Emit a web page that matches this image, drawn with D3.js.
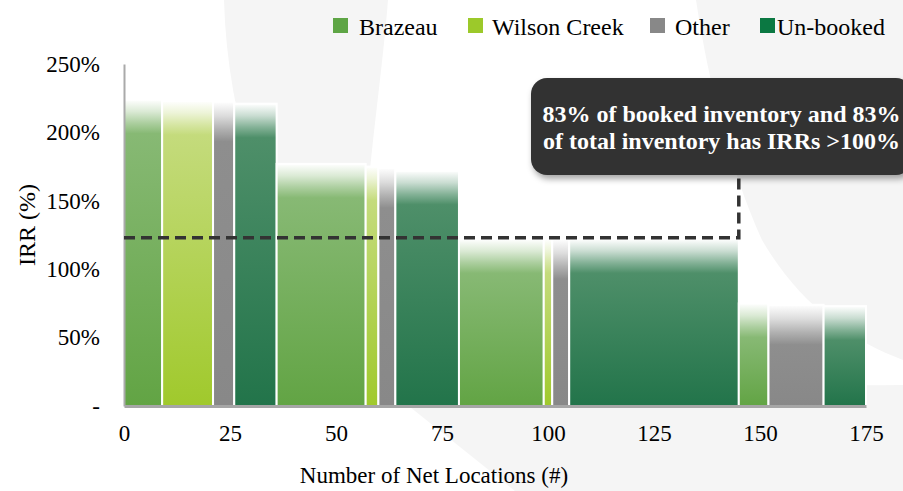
<!DOCTYPE html>
<html>
<head>
<meta charset="utf-8">
<script src="https://cdn.jsdelivr.net/npm/d3@7"></script>
<style>
  html, body { margin: 0; padding: 0; background: #ffffff; }
  svg { display: block; }
  svg text { font-family: "Liberation Serif", "Times New Roman", Times, "DejaVu Serif", serif; }
</style>
</head>
<body>
<script>
// ---- data ----
const categories = ["Brazeau", "Wilson Creek", "Other", "Un-booked"];
const barSeries = ["Brazeau", "Wilson Creek", "Other", "Un-booked",
                   "Brazeau", "Wilson Creek", "Other", "Un-booked",
                   "Brazeau", "Wilson Creek", "Other", "Un-booked",
                   "Brazeau", "Other", "Un-booked"];
const barLocations = [9, 12, 5, 10, 21, 3, 4, 15, 20, 2, 4, 40, 7, 13, 10];
const barIRR = [224, 223, 222.5, 221, 177, 175, 174, 172, 122, 122, 122, 122, 75, 74, 73];
const xTicks = [0, 25, 50, 75, 100, 125, 150, 175];
const yTicks = [0, 50, 100, 150, 200, 250];
const yTickLabels = ["-", "50%", "100%", "150%", "200%", "250%"];
const thresholdIRR = 123;
const thresholdEnd = 145;
const calloutLines = ["83% of booked inventory and 83%", "of total inventory has IRRs >100%"];
const xTitle = "Number of Net Locations (#)";
const yTitle = "IRR (%)";

// ---- style ----
const W = 903, H = 491;
const FONT = "'Liberation Serif', 'Times New Roman', Times, 'DejaVu Serif', serif";
const baseColor = {"Brazeau": "#62a444", "Wilson Creek": "#a0c92c", "Other": "#888888", "Un-booked": "#22744a"};
const topColor  = {"Brazeau": "#87b974", "Wilson Creek": "#c4db7c", "Other": "#8e8e8e", "Un-booked": "#4e8f69"};
const legendColor = {"Brazeau": "#5ea545", "Wilson Creek": "#9cc92a", "Other": "#888888", "Un-booked": "#0b7842"};

const svg = d3.select("body").append("svg").attr("width", W).attr("height", H);
const defs = svg.append("defs");

// background watermark
svg.append("rect").attr("width", W).attr("height", H).attr("fill", "#ffffff");
const bg = svg.append("g").attr("fill", "#f5f5f5");
bg.append("path").attr("d",
  "M224,0 L388,0 C380,100 362,200 368,250 C380,330 520,390 903,385 L903,491 L515,491 L410,407 C290,320 228,150 224,0 Z");
bg.append("path").attr("d", "M696,0 L903,0 L903,360 C850,340 800,305 762,240 C730,170 708,80 696,0 Z");

const x = d3.scaleLinear().domain([0, 175]).range([124, 866]);
const y = d3.scaleLinear().domain([0, 250]).range([406, 64]);

const ends = Array.from(d3.cumsum(barLocations));
const bars = barLocations.map((w, i) => ({
  series: barSeries[i], start: ends[i] - w, end: ends[i], irr: barIRR[i], i
}));

// gradients
bars.forEach(b => {
  const yTop = y(b.irr), yBot = y(0);
  const fade = b.series === "Other" ? 40 : 34;
  const g = defs.append("linearGradient")
    .attr("id", "g" + b.i).attr("gradientUnits", "userSpaceOnUse")
    .attr("x1", 0).attr("x2", 0).attr("y1", yTop).attr("y2", yBot);
  const h = yBot - yTop;
  const f = fade / h;
  const tc = topColor[b.series], bc = baseColor[b.series];
  const mix = d3.interpolateRgb("#ffffff", tc);
  g.append("stop").attr("offset", 0).attr("stop-color", "#ffffff");
  g.append("stop").attr("offset", f * 0.35).attr("stop-color", mix(0.3));
  g.append("stop").attr("offset", f * 0.7).attr("stop-color", mix(0.7));
  g.append("stop").attr("offset", f).attr("stop-color", tc);
  g.append("stop").attr("offset", 1).attr("stop-color", bc);
});

svg.append("g").selectAll("rect").data(bars).join("rect")
  .attr("x", d => x(d.start))
  .attr("y", d => y(d.irr))
  .attr("width", d => x(d.end) - x(d.start))
  .attr("height", d => y(0) - y(d.irr))
  .attr("fill", d => "url(#g" + d.i + ")")
  .attr("stroke", "#ffffff")
  .attr("stroke-width", 2);

// axes
const xAxis = svg.append("g").attr("transform", `translate(0,${y(0)})`)
  .call(d3.axisBottom(x).tickValues(xTicks).tickSize(0).tickSizeOuter(0).tickPadding(19).tickFormat(d3.format("d")));
xAxis.attr("font-family", FONT);
xAxis.select(".domain").attr("stroke", "#a6a6a6").attr("stroke-width", 3);
xAxis.selectAll("text").attr("font-size", 23).attr("fill", "#000").style("font-family", FONT);

const yAxis = svg.append("g").attr("transform", `translate(${x(0)},0)`)
  .call(d3.axisLeft(y).tickValues(yTicks).tickSize(0).tickSizeOuter(0).tickPadding(24).tickFormat((d, i) => yTickLabels[i]));
yAxis.attr("font-family", FONT);
yAxis.select(".domain").attr("stroke", "#aaaaaa").attr("stroke-width", 2);
yAxis.selectAll("text").attr("font-size", 23).attr("fill", "#000").style("font-family", FONT);

// axis titles
svg.append("text").attr("x", 434).attr("y", 483).attr("text-anchor", "middle")
  .attr("font-size", 23).attr("fill", "#000").style("font-family", FONT).text(xTitle);
svg.append("text").attr("transform", "translate(35,225) rotate(-90)").attr("text-anchor", "middle")
  .attr("font-size", 24).attr("fill", "#000").style("font-family", FONT).text(yTitle);

// callout box
const filt = defs.append("filter").attr("id", "shadow").attr("x", "-10%").attr("y", "-20%").attr("width", "130%").attr("height", "150%");
filt.append("feDropShadow").attr("dx", 2).attr("dy", 4).attr("stdDeviation", 3).attr("flood-color", "#000").attr("flood-opacity", 0.35);

const boxTop = 78, boxBottom = 175, boxLeft = 531, boxRight = 912;

// dashed threshold
svg.append("path")
  .attr("d", `M${x(0)},${y(thresholdIRR)} H${x(thresholdEnd)} V${boxBottom}`)
  .attr("fill", "none").attr("stroke", "#333333").attr("stroke-width", 3.5)
  .attr("stroke-dasharray", "11,6");

svg.append("rect").attr("x", boxLeft).attr("y", boxTop)
  .attr("width", boxRight - boxLeft).attr("height", boxBottom - boxTop)
  .attr("rx", 16).attr("ry", 16).attr("fill", "#333333").attr("filter", "url(#shadow)");
const cx = (boxLeft + boxRight) / 2;
svg.append("g").selectAll("text").data(calloutLines).join("text")
  .attr("x", cx).attr("y", (d, i) => 122 + i * 27)
  .attr("text-anchor", "middle").attr("font-size", 24).attr("font-weight", "bold")
  .attr("fill", "#ffffff").style("font-family", FONT).text(d => d);

// legend
const legendX = [333, 468, 650, 760];
const legendTextX = [359, 492, 675, 777];
const leg = svg.append("g");
categories.forEach((c, i) => {
  leg.append("rect").attr("x", legendX[i]).attr("y", 18).attr("width", 15).attr("height", 15)
    .attr("fill", legendColor[c]);
  leg.append("text").attr("x", legendTextX[i]).attr("y", 35).attr("font-size", 24)
    .attr("fill", "#000").style("font-family", FONT).text(c);
});
</script>
</body>
</html>
